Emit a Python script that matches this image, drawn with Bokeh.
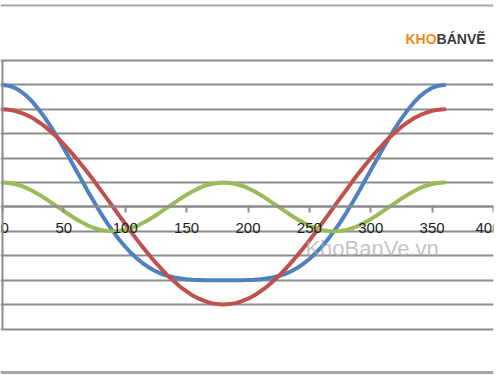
from bokeh.plotting import figure
from bokeh.models import Range1d, FixedTicker, Grid, Legend, LegendItem, Label, Span, LinearAxis
from bokeh.core.properties import value
from bokeh.embed import file_html
from bokeh.resources import INLINE

# ---- data ----
angle = [0, 5, 10, 15, 20, 25, 30, 35, 40, 45, 50, 55, 60, 65, 70, 75, 80, 85, 90,
         95, 100, 105, 110, 115, 120, 125, 130, 135, 140, 145, 150, 155, 160, 165, 170, 175, 180,
         185, 190, 195, 200, 205, 210, 215, 220, 225, 230, 235, 240, 245, 250, 255, 260, 265, 270,
         275, 280, 285, 290, 295, 300, 305, 310, 315, 320, 325, 330, 335, 340, 345, 350, 355, 360]
series1 = [5.00, 4.97, 4.88, 4.73, 4.53, 4.27, 3.96, 3.62, 3.24, 2.83, 2.40, 1.95, 1.50, 1.05,
           0.60, 0.17, -0.25, -0.64, -1.00, -1.33, -1.63, -1.90, -2.13, -2.33, -2.50, -2.64,
           -2.75, -2.83, -2.89, -2.93, -2.96, -2.98, -2.99, -3.00, -3.00, -3.00, -3.00,
           -3.00, -3.00, -3.00, -2.99, -2.98, -2.96, -2.93, -2.89, -2.83, -2.75, -2.64, -2.50,
           -2.33, -2.13, -1.90, -1.63, -1.33, -1.00, -0.64, -0.25, 0.17, 0.60, 1.05, 1.50, 1.95,
           2.40, 2.83, 3.24, 3.62, 3.96, 4.27, 4.53, 4.73, 4.88, 4.97, 5.00]
series2 = [4.00, 3.98, 3.94, 3.86, 3.76, 3.63, 3.46, 3.28, 3.06, 2.83, 2.57, 2.29, 2.00, 1.69,
           1.37, 1.04, 0.69, 0.35, 0.00, -0.35, -0.69, -1.04, -1.37, -1.69, -2.00, -2.29, -2.57,
           -2.83, -3.06, -3.28, -3.46, -3.63, -3.76, -3.86, -3.94, -3.98, -4.00,
           -3.98, -3.94, -3.86, -3.76, -3.63, -3.46, -3.28, -3.06, -2.83, -2.57, -2.29, -2.00,
           -1.69, -1.37, -1.04, -0.69, -0.35, 0.00, 0.35, 0.69, 1.04, 1.37, 1.69, 2.00, 2.29,
           2.57, 2.83, 3.06, 3.28, 3.46, 3.63, 3.76, 3.86, 3.94, 3.98, 4.00]
series3 = [1.00, 0.98, 0.94, 0.87, 0.77, 0.64, 0.50, 0.34, 0.17, 0.00, -0.17, -0.34, -0.50,
           -0.64, -0.77, -0.87, -0.94, -0.98, -1.00, -0.98, -0.94, -0.87, -0.77, -0.64, -0.50,
           -0.34, -0.17, 0.00, 0.17, 0.34, 0.50, 0.64, 0.77, 0.87, 0.94, 0.98, 1.00,
           0.98, 0.94, 0.87, 0.77, 0.64, 0.50, 0.34, 0.17, 0.00, -0.17, -0.34, -0.50, -0.64,
           -0.77, -0.87, -0.94, -0.98, -1.00, -0.98, -0.94, -0.87, -0.77, -0.64, -0.50, -0.34,
           -0.17, 0.00, 0.17, 0.34, 0.50, 0.64, 0.77, 0.87, 0.94, 0.98, 1.00]
series_names = ["Series1", "Series2", "Series3"]
x_ticks = [0, 50, 100, 150, 200, 250, 300, 350, 400]
y_grid_levels = [-5, -4, -3, -2, -1, 0, 1, 2, 3, 4, 5, 6]

GRID = "#8c8c8c"
FONT = "Liberation Sans"

p = figure(width=500, height=375, output_backend="svg", toolbar_location=None,
           x_range=Range1d(-1.63, 400), y_range=Range1d(-6.905, 8.458),
           min_border_left=0, min_border_right=7, min_border_top=0, min_border_bottom=0,
           y_axis_location=None)
p.outline_line_color = None
p.background_fill_color = "white"
p.border_fill_color = "white"
p.xgrid.visible = False
p.ygrid.visible = False

grid = Grid(dimension=1, ticker=FixedTicker(ticks=y_grid_levels),
            grid_line_color=GRID, grid_line_width=2)
p.add_layout(grid)

ax = p.xaxis[0]
ax.ticker = FixedTicker(ticks=x_ticks)
ax.fixed_location = 0
ax.bounds = (0, 400)
ax.axis_line_color = GRID
ax.axis_line_width = 2
ax.major_tick_line_color = GRID
ax.major_tick_line_width = 2
ax.major_tick_out = 6
ax.major_tick_in = 0
ax.minor_tick_line_color = None
ax.major_label_standoff = 10
ax.major_label_text_font = FONT
ax.major_label_text_font_size = "15px"
ax.major_label_text_color = "#1e1e1e"

yax = LinearAxis(fixed_location=0, bounds=(-5, 6), ticker=FixedTicker(ticks=[]),
                 axis_line_color=GRID, axis_line_width=2,
                 major_tick_line_color=None, minor_tick_line_color=None)
p.add_layout(yax, "left")

colors = ["#4F81BD", "#C0504D", "#9BBB59"]
renderers = []
for ys, c in zip([series1, series2, series3], colors):
    r = p.line(angle, ys, line_width=4, line_color=c, line_join="round", line_cap="round")
    renderers.append(r)

legend = Legend(items=[LegendItem(label=value(" "), renderers=[r]) for r in renderers],
                location=(497, 146), padding=0, spacing=12, glyph_height=20, glyph_width=20,
                label_height=20, label_width=0, label_standoff=0, border_line_color=None,
                background_fill_alpha=0, label_text_font=FONT, label_text_font_size="15px")
p.add_layout(legend)

# watermark texts
p.add_layout(Label(x=246.8, y=-1.72, text="KhoBanVe.vn", text_font=FONT,
                   text_font_size="22px", text_color="#aaaaaa", text_alpha=0.7,
                   text_baseline="middle"))
p.add_layout(Label(x=328.3, y=6.88, text="KHO", text_font=FONT, text_font_size="14px",
                   text_font_style="bold", text_color="#ee8a1e", text_baseline="middle"))
p.add_layout(Label(x=353.6, y=6.88, text="BÁNVẼ", text_font=FONT, text_font_size="14px",
                   text_font_style="bold", text_color="#3a3a3a", text_baseline="middle"))

# outer chart-area border lines
p.add_layout(Span(location=8.25, dimension="width", line_color="#a6a6a6", line_width=2))
p.add_layout(Span(location=-6.78, dimension="width", line_color="#a6a6a6", line_width=3))

open("out.html", "w").write(file_html(p, INLINE))
